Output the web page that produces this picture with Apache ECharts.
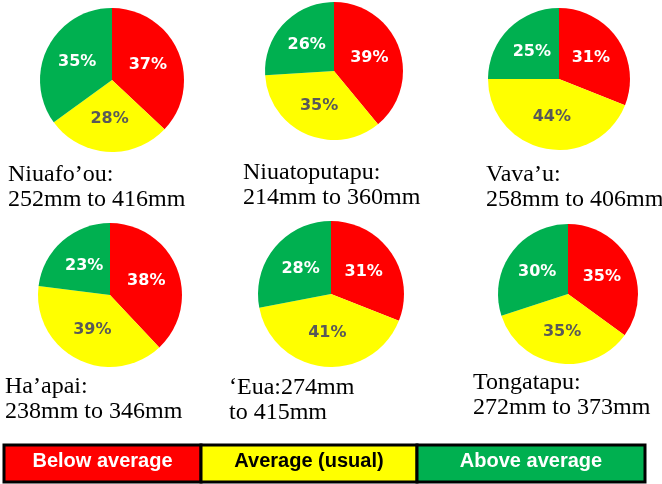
<!DOCTYPE html>
<html>
<head>
<meta charset="utf-8">
<script src="https://cdn.jsdelivr.net/npm/echarts@6/dist/echarts.min.js"></script>
<style>
  html, body { margin: 0; padding: 0; background: #fff; }
  #chart { width: 662px; height: 484px; }
</style>
</head>
<body>
<div id="chart"></div>
<script>
// rainfall outlook by island group (percent chance)
var stations = ['Niuafo’ou', 'Niuatoputapu', 'Vava’u', 'Ha’apai', '‘Eua', 'Tongatapu'];
var lowMm = [252, 214, 258, 238, 274, 272];
var highMm = [416, 360, 406, 346, 415, 373];
var below = [37, 39, 31, 38, 31, 35];
var usual = [28, 35, 44, 39, 41, 35];
var above = [35, 26, 25, 23, 28, 30];

var categories = ['Below average', 'Average (usual)', 'Above average'];
var colors = ['#ff0000', '#ffff00', '#00b050'];
var labelColors = ['#ffffff', '#595959', '#ffffff'];
var legendTextColors = ['#ffffff', '#000000', '#ffffff'];

// layout
var centers = [[112, 80], [334, 71], [559, 79], [110, 295], [331, 294], [568, 294]];
var radii = [72, 69, 71, 72, 73, 70];
var captionPos = [[8, 162], [243, 160], [486, 162], [5, 374], [229, 375], [473, 370]];

chart01();
function chart01(){
  var myChart = echarts.init(document.getElementById('chart'));

  var series = [];
  for (var i = 0; i < stations.length; i++) {
    var vals = [below[i], usual[i], above[i]];
    series.push({
      name: stations[i],
      type: 'pie',
      center: centers[i],
      radius: [0, radii[i]],
      startAngle: 90,
      clockwise: true,
      silent: true,
      animation: false,
      label: {
        show: true,
        position: 'inside',
        formatter: '{c}%',
        fontFamily: 'DejaVu Sans',
        fontWeight: 'bold',
        fontSize: 16
      },
      labelLine: { show: false },
      itemStyle: { borderWidth: 0 },
      data: vals.map(function(v, k){
        return {
          value: v,
          name: categories[k],
          itemStyle: { color: colors[k] },
          label: { color: labelColors[k] }
        };
      })
    });
  }

  var graphics = [];
  // captions under each pie
  for (var j = 0; j < stations.length; j++) {
    var txt;
    if (j === 4) {
      txt = stations[j] + ':' + lowMm[j] + 'mm\nto ' + highMm[j] + 'mm';
    } else {
      txt = stations[j] + ':\n' + lowMm[j] + 'mm to ' + highMm[j] + 'mm';
    }
    graphics.push({
      type: 'text',
      x: captionPos[j][0],
      y: captionPos[j][1],
      z: 100,
      style: {
        text: txt,
        fill: '#000',
        font: '24px "Liberation Serif", "Times New Roman", serif',
        lineHeight: 25,
        verticalAlign: 'top'
      }
    });
  }

  // legend bar
  var cellEdges = [4, 201, 417, 645];
  for (var c = 0; c < categories.length; c++) {
    graphics.push({
      type: 'rect',
      z: 100,
      shape: { x: cellEdges[c], y: 445, width: cellEdges[c + 1] - cellEdges[c], height: 37 },
      style: { fill: colors[c], stroke: '#000', lineWidth: 3 }
    });
    graphics.push({
      type: 'text',
      z: 101,
      x: (cellEdges[c] + cellEdges[c + 1]) / 2,
      y: 461,
      style: {
        text: categories[c],
        fill: legendTextColors[c],
        font: 'bold 20px "Liberation Sans", Arial, sans-serif',
        align: 'center',
        verticalAlign: 'middle'
      }
    });
  }

  var option = {
    backgroundColor: '#fff',
    series: series,
    graphic: graphics
  };
  myChart.setOption(option);
}
</script>
</body>
</html>
